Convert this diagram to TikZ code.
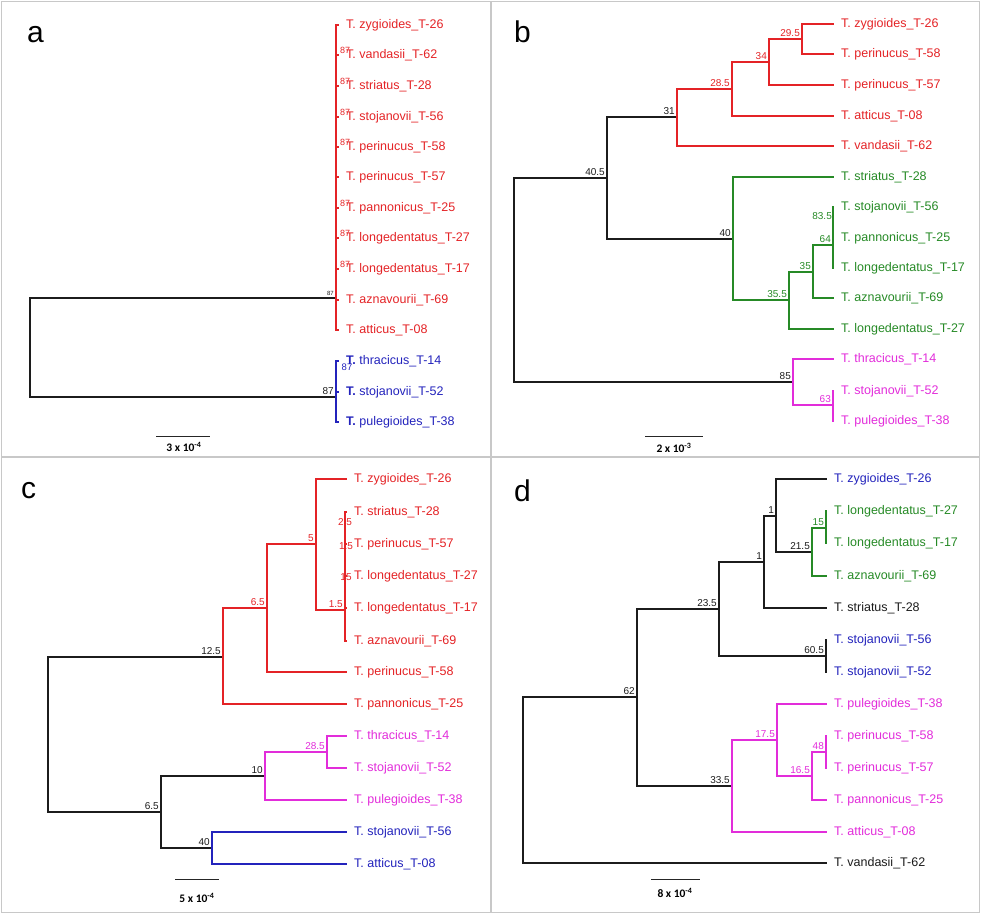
\documentclass[tikz,border=0pt]{standalone}
\usepackage{fontspec}
\setmainfont{Liberation Sans}
\newfontfamily\barfont{Carlito}
\definecolor{tred}{RGB}{228,35,38}
\definecolor{tgreen}{RGB}{38,138,38}
\definecolor{tblue}{RGB}{35,35,188}
\definecolor{tpink}{RGB}{226,45,218}
\definecolor{tblack}{RGB}{28,28,28}
\definecolor{framegray}{RGB}{200,200,200}
\tikzset{
  branch/.style={line width=2.2pt},
  tip/.style={anchor=west, inner sep=1pt, xshift=6pt, font=\fontsize{12.5}{14}\selectfont},
  boot/.style={anchor=south east, inner sep=1pt, xshift=-1pt, yshift=1pt, font=\fontsize{10}{12}\selectfont},
  panel/.style={anchor=base west, inner sep=0pt, font=\fontsize{30}{30}\selectfont},
  scalebar/.style={line width=1pt, draw=black!85},
  scaletext/.style={inner sep=0pt, font=\barfont\bfseries\fontsize{11.5}{12}\selectfont},
}
\begin{document}
\begin{tikzpicture}[x=1pt, y=-1pt, line join=miter]
\useasboundingbox (0,0) rectangle (981,914);
% frame
\draw[framegray, line width=1.5pt] (1.5,1.5) rectangle (979.5,912.5);
\draw[framegray, line width=1.5pt] (491,1.5) -- (491,912.5) (1.5,457) -- (979.5,457);
\node[panel] (pa) at (27,42) {a};
\node[panel] (pb) at (514,42) {b};
\node[panel] (pc) at (21,498) {c};
\node[panel] (pd) at (514,501) {d};

% panel a
\coordinate (aR) at (30,348);
\coordinate (aRed) at (336,298);
\coordinate (aBlue) at (336,397);
\draw[branch,tblack] (aR) |- (aRed) (aR) |- (aBlue);
\foreach \y/\sp [count=\i] in {25/zygioides\_T-26, 55/vandasii\_T-62, 86/striatus\_T-28,
    117/stojanovii\_T-56, 147/perinucus\_T-58, 177/perinucus\_T-57, 208/pannonicus\_T-25,
    238/longedentatus\_T-27, 269/longedentatus\_T-17, 300/aznavourii\_T-69, 330/atticus\_T-08}{
  \coordinate (a\i) at (339,\y);
  \draw[branch,tred] (aRed) |- (a\i);
}
\foreach \i in {2,3,4,5,7,8,9}
  \node[tred, inner sep=0pt, font=\fontsize{9}{9}\selectfont] (a\i-bs) at ([xshift=6pt,yshift=5pt]a\i) {87};
\foreach \y/\sp [count=\i] in {25/zygioides\_T-26, 55/vandasii\_T-62, 86/striatus\_T-28,
    117/stojanovii\_T-56, 147/perinucus\_T-58, 177/perinucus\_T-57, 208/pannonicus\_T-25,
    238/longedentatus\_T-27, 269/longedentatus\_T-17, 300/aznavourii\_T-69, 330/atticus\_T-08}
  \node[tip,tred] (al\i) at (a\i) {T. \sp};
\foreach \y/\sp [count=\i] in {361/thracicus\_T-14, 392/stojanovii\_T-52, 422/pulegioides\_T-38}{
  \coordinate (ab\i) at (339,\y);
  \draw[branch,tblue] (aBlue) |- (ab\i);
  \node[tip,tblue] (abl\i) at (ab\i) {\textbf{T.} \sp};
}
\node[tblue, inner sep=0pt, font=\fontsize{9.5}{9.5}\selectfont] (ab1-bs) at ([xshift=8pt,yshift=-6pt]ab1) {87};
\node[boot,tblack,font=\fontsize{6}{6}\selectfont] (aRed-bs) at (aRed) {87};
\node[boot,tblack] (aBlue-bs) at (aBlue) {87};
\coordinate (asb1) at (156,436);
\coordinate (asb2) at (210,436);
\draw[scalebar] (asb1) -- (asb2);
\node[scaletext] (ast) at (184,447) {3 x 10\textsuperscript{-4}};

% panel b
\coordinate (bR) at (514,280);
\coordinate (b1) at (607,178);
\coordinate (b2) at (677,117);
\coordinate (b3) at (733,239);
\coordinate (b4) at (732,89);
\coordinate (b5) at (769,62);
\coordinate (b6) at (802,39);
\coordinate (b7) at (789,300);
\coordinate (b8) at (813,272);
\coordinate (b9) at (833,245);
\coordinate (bP) at (793,382);
\coordinate (bP2) at (833,405);
\foreach \y/\c/\sp [count=\i] in {24/tred/zygioides\_T-26, 54/tred/perinucus\_T-58,
    85/tred/perinucus\_T-57, 116/tred/atticus\_T-08, 146/tred/vandasii\_T-62,
    177/tgreen/striatus\_T-28, 207/tgreen/stojanovii\_T-56, 238/tgreen/pannonicus\_T-25,
    268/tgreen/longedentatus\_T-17, 298/tgreen/aznavourii\_T-69, 329/tgreen/longedentatus\_T-27,
    359/tpink/thracicus\_T-14, 391/tpink/stojanovii\_T-52, 421/tpink/pulegioides\_T-38}{
  \coordinate (bt\i) at (834,\y);
  \node[tip,text=\c] (btl\i) at (bt\i) {T. \sp};
}
\foreach \p/\q in {bR/b1, bR/bP, b1/b2, b1/b3}
  \draw[branch,tblack] (\p) |- (\q);
\foreach \p/\q in {b2/b4, b2/bt5, b4/b5, b4/bt4, b5/b6, b5/bt3, b6/bt1, b6/bt2}
  \draw[branch,tred] (\p) |- (\q);
\foreach \p/\q in {b3/bt6, b3/b7, b7/b8, b7/bt11, b8/b9, b8/bt10, b9/bt7, b9/bt8, b9/bt9}
  \draw[branch,tgreen] (\p) |- (\q);
\foreach \p/\q in {bP/bt12, bP/bP2, bP2/bt13, bP2/bt14}
  \draw[branch,tpink] (\p) |- (\q);
\foreach \n/\v in {b1/40.5, b2/31, b3/40, bP/85}
  \node[boot,tblack] (\n-bs) at (\n) {\v};
\foreach \n/\v in {b4/28.5, b5/34, b6/29.5}
  \node[boot,tred] (\n-bs) at (\n) {\v};
\foreach \n/\v in {b7/35.5, b8/35, b9/64}
  \node[boot,tgreen] (\n-bs) at (\n) {\v};
\node[boot,tgreen] (b9a-bs) at (834,222) {83.5};
\node[boot,tpink] (bP2-bs) at (bP2) {63};
\coordinate (bsb1) at (645,436);
\coordinate (bsb2) at (703,436);
\draw[scalebar] (bsb1) -- (bsb2);
\node[scaletext] (bst) at (674,448) {2 x 10\textsuperscript{-3}};

% panel c
\coordinate (cR) at (48,735);
\coordinate (c1) at (223,657);
\coordinate (c2) at (161,812);
\coordinate (c3) at (267,608);
\coordinate (c4) at (316,544);
\coordinate (c5) at (345,610);
\coordinate (c6) at (265,776);
\coordinate (c7) at (212,848);
\coordinate (c8) at (327,752);
\foreach \y/\c/\sp [count=\i] in {479/tred/zygioides\_T-26, 512/tred/striatus\_T-28,
    544/tred/perinucus\_T-57, 576/tred/longedentatus\_T-27, 608/tred/longedentatus\_T-17,
    641/tred/aznavourii\_T-69, 672/tred/perinucus\_T-58, 704/tred/pannonicus\_T-25,
    736/tpink/thracicus\_T-14, 768/tpink/stojanovii\_T-52, 800/tpink/pulegioides\_T-38,
    832/tblue/stojanovii\_T-56, 864/tblue/atticus\_T-08}{
  \coordinate (ct\i) at (347,\y);
  \node[tip,text=\c] (ctl\i) at (ct\i) {T. \sp};
}
\foreach \p/\q in {cR/c1, cR/c2, c2/c6, c2/c7}
  \draw[branch,tblack] (\p) |- (\q);
\foreach \p/\q in {c1/c3, c1/ct8, c3/c4, c3/ct7, c4/ct1, c4/c5, c5/ct2, c5/ct3, c5/ct4, c5/ct5, c5/ct6}
  \draw[branch,tred] (\p) |- (\q);
\foreach \p/\q in {c6/c8, c6/ct11, c8/ct9, c8/ct10}
  \draw[branch,tpink] (\p) |- (\q);
\foreach \p/\q in {c7/ct12, c7/ct13}
  \draw[branch,tblue] (\p) |- (\q);
\foreach \n/\v in {c1/12.5, c2/6.5, c6/10, c7/40}
  \node[boot,tblack] (\n-bs) at (\n) {\v};
\foreach \n/\v in {c3/6.5, c4/5, c5/1.5}
  \node[boot,tred] (\n-bs) at (\n) {\v};
\node[boot,tpink] (c8-bs) at (c8) {28.5};
\node[tred, inner sep=0pt, font=\fontsize{10}{12}\selectfont] (c5a-bs) at (345,522) {2.5};
\node[tred, inner sep=0pt, font=\fontsize{10}{12}\selectfont] (c5b-bs) at (346,546) {1.5};
\node[tred, inner sep=0pt, font=\fontsize{10}{12}\selectfont] (c5c-bs) at (346,577) {15};
\coordinate (csb1) at (175,879);
\coordinate (csb2) at (219,879);
\draw[scalebar] (csb1) -- (csb2);
\node[scaletext] (cst) at (197,898) {5 x 10\textsuperscript{-4}};

% panel d
\coordinate (dR) at (523,780);
\coordinate (d1) at (637,697);
\coordinate (d2) at (719,609);
\coordinate (d3) at (732,786);
\coordinate (d4) at (764,562);
\coordinate (d5) at (826,656);
\coordinate (d6) at (776,516);
\coordinate (d7) at (812,552);
\coordinate (d8) at (826,528);
\coordinate (d9) at (777,740);
\coordinate (d10) at (812,776);
\coordinate (d11) at (826,752);
\foreach \y/\c/\sp [count=\i] in {479/tblue/zygioides\_T-26, 511/tgreen/longedentatus\_T-27,
    543/tgreen/longedentatus\_T-17, 576/tgreen/aznavourii\_T-69, 608/tblack/striatus\_T-28,
    640/tblue/stojanovii\_T-56, 672/tblue/stojanovii\_T-52, 704/tpink/pulegioides\_T-38,
    736/tpink/perinucus\_T-58, 768/tpink/perinucus\_T-57, 800/tpink/pannonicus\_T-25,
    832/tpink/atticus\_T-08, 863/tblack/vandasii\_T-62}{
  \coordinate (dt\i) at (827,\y);
  \node[tip,text=\c] (dtl\i) at (dt\i) {T. \sp};
}
\foreach \p/\q in {dR/d1, dR/dt13, d1/d2, d1/d3, d2/d4, d2/d5, d5/dt6, d5/dt7, d4/d6, d4/dt5, d6/dt1, d6/d7}
  \draw[branch,tblack] (\p) |- (\q);
\foreach \p/\q in {d7/d8, d7/dt4, d8/dt2, d8/dt3}
  \draw[branch,tgreen] (\p) |- (\q);
\foreach \p/\q in {d3/d9, d3/dt12, d9/dt8, d9/d10, d10/d11, d10/dt11, d11/dt9, d11/dt10}
  \draw[branch,tpink] (\p) |- (\q);
\foreach \n/\v in {d1/62, d2/23.5, d3/33.5, d4/1, d5/60.5, d6/1, d7/21.5}
  \node[boot,tblack] (\n-bs) at (\n) {\v};
\node[boot,tgreen] (d8-bs) at (d8) {15};
\foreach \n/\v in {d9/17.5, d10/16.5, d11/48}
  \node[boot,tpink] (\n-bs) at (\n) {\v};
\coordinate (dsb1) at (651,879);
\coordinate (dsb2) at (700,879);
\draw[scalebar] (dsb1) -- (dsb2);
\node[scaletext] (dst) at (675,893) {8 x 10\textsuperscript{-4}};
\end{tikzpicture}
\end{document}
